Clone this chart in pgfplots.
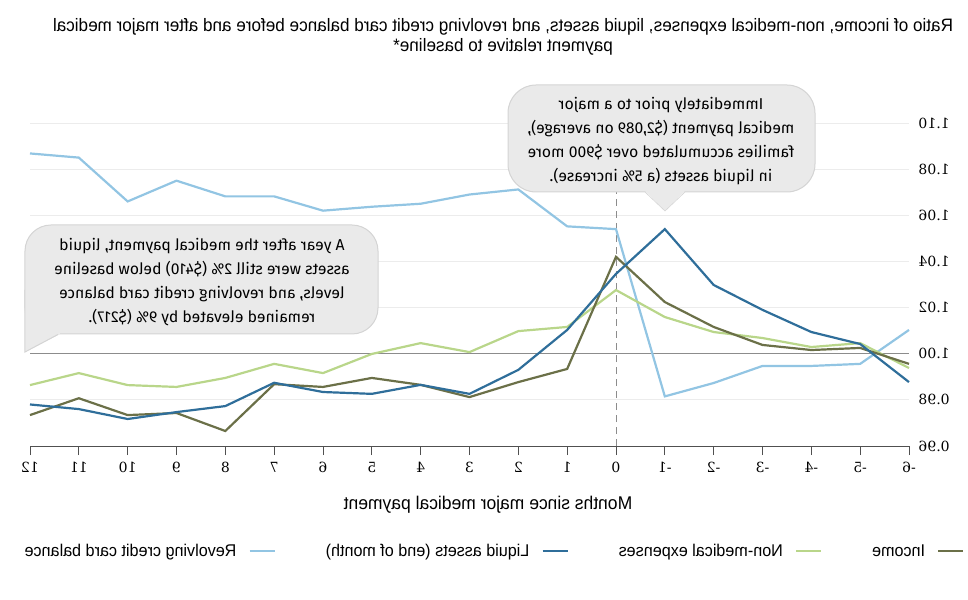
\documentclass[border=0pt]{standalone}
\usepackage{pgfplots}
\pgfplotsset{compat=1.18}
\usepackage{pgfplotstable}
\usepackage{graphicx}
\usepackage{fontspec}
\setmainfont{Liberation Sans}
\newfontfamily\narrowfont[FakeStretch=0.95]{Liberation Sans}
\newfontfamily\callfont{Fira Sans}
\newfontfamily\tickfont{DejaVu Serif}
\definecolor{incomec}{RGB}{107,112,72}
\definecolor{nonmedc}{RGB}{185,214,138}
\definecolor{liquidc}{RGB}{47,110,154}
\definecolor{revolvc}{RGB}{146,197,227}
\definecolor{gridc}{RGB}{236,236,236}
\definecolor{basec}{RGB}{140,140,140}
\definecolor{axisc}{RGB}{80,80,80}
\definecolor{callfill}{RGB}{234,234,234}
\definecolor{callborder}{RGB}{212,212,212}
\newcommand{\rl}[1]{\reflectbox{#1}}

\pgfplotstableread{
month income nonmed liquid revolv
12  0.9734 0.9864 0.9780 1.0868
11  0.9807 0.9916 0.9760 1.0850
10  0.9734 0.9864 0.9717 1.0660
9   0.9743 0.9856 0.9747 1.0750
8   0.9665 0.9895 0.9773 1.0682
7   0.9868 0.9956 0.9874 1.0682
6   0.9856 0.9916 0.9834 1.0620
5   0.9895 0.9999 0.9826 1.0637
4   0.9865 1.0046 0.9865 1.0650
3   0.9812 1.0007 0.9826 1.0690
2   0.9877 1.0098 0.9930 1.0712
1   0.9934 1.0116 1.0103 1.0552
0   1.0420 1.0276 1.0346 1.0540
-1  1.0224 1.0159 1.0540 0.9815
-2  1.0116 1.0094 1.0298 0.9873
-3  1.0038 1.0068 1.0190 0.9947
-4  1.0016 1.0029 1.0094 0.9947
-5  1.0025 1.0046 1.0042 0.9956
-6  0.9956 0.9938 0.9877 1.0103
}\datatable

\begin{document}
\begin{tikzpicture}
\begin{axis}[
  scale only axis, width=879bp, height=323bp,
  xmin=-6, xmax=12, ymin=0.96, ymax=1.10,
  x dir=reverse,
  separate axis lines,
  axis x line*=bottom,
  axis y line*=right,
  x axis line style={draw=axisc, line width=0.9bp},
  y axis line style={draw=none},
  xtick={-6,-5,...,12},
  xticklabels={\rl{-6},\rl{-5},\rl{-4},\rl{-3},\rl{-2},\rl{-1},\rl{0},\rl{1},\rl{2},\rl{3},\rl{4},\rl{5},\rl{6},\rl{7},\rl{8},\rl{9},\rl{10},\rl{11},\rl{12}},
  x tick label style={font=\tickfont\fontsize{14bp}{16bp}\selectfont, yshift=-4bp},
  x tick style={draw=axisc, line width=0.9bp},
  xtick align=outside, major tick length=9bp,
  ytick={0.96,0.98,1.00,1.02,1.04,1.06,1.08,1.10},
  yticklabels={\rl{0.96},\rl{0.98},\rl{1.00},\rl{1.02},\rl{1.04},\rl{1.06},\rl{1.08},\rl{1.10}},
  yticklabel pos=right,
  y tick style={draw=none},
  y tick label style={font=\tickfont\fontsize{14bp}{16bp}\selectfont, anchor=west, xshift=6bp},
  ymajorgrids, major grid style={draw=gridc, line width=0.9bp},
  clip=false,
  legend plot pos=right,
  legend columns=4,
  legend style={at={(-0.012,-0.325)}, anchor=west, draw=none, fill=none,
    font=\narrowfont\fontsize{17bp}{18bp}\selectfont,
    /tikz/every even column/.append style={column sep=48bp},
    /tikz/every odd column/.append style={column sep=10bp}},
  legend image code/.code={\draw[#1, line width=2.2bp] (0bp,0bp) -- (25bp,0bp);},
  every axis plot/.append style={line width=2.2bp},
]
\draw[basec, line width=1bp] (axis cs:-6,1) -- (axis cs:12,1);
\draw[basec, line width=0.9bp, dash pattern=on 7bp off 5bp] (axis cs:0,0.96) -- (axis cs:0,1.08);
\addplot[revolvc, forget plot] table[x=month, y=revolv] {\datatable};
\addplot[nonmedc, forget plot] table[x=month, y=nonmed] {\datatable};
\addplot[incomec, forget plot] table[x=month, y=income] {\datatable};
\addplot[liquidc, forget plot] table[x=month, y=liquid] {\datatable};
\addlegendimage{revolvc}
\addlegendentry{\rl{Revolving credit card balance}}
\addlegendimage{liquidc}
\addlegendentry{\rl{Liquid assets (end of month)}}
\addlegendimage{nonmedc}
\addlegendentry{\rl{Non-medical expenses}}
\addlegendimage{incomec}
\addlegendentry{\rl{Income}}
\end{axis}
\pgfresetboundingbox
\coordinate (TL) at ([xshift=-30bp,yshift=446bp]current axis.south west);
\path[use as bounding box] (TL) rectangle ++(968bp,-600bp);
\begin{scope}[shift={(TL)}, x=1bp, y=-1bp]
  % title
  \node[anchor=center, inner sep=0pt] at (503,38) {\rl{\narrowfont\fontsize{18bp}{20bp}\selectfont\setlength\tabcolsep{0pt}\begin{tabular}{c}Ratio of income, non-medical expenses, liquid assets, and revolving credit card balance before and after major medical\\payment relative to baseline*\end{tabular}}};
  % x label
  \node[anchor=center, inner sep=0pt] at (488,505) {\rl{\narrowfont\fontsize{18.4bp}{20bp}\selectfont Months since major medical payment}};
  % callout 1
  \draw[fill=callfill, draw=callborder, line width=1bp, rounded corners=28bp] (508,85) rectangle (815,192);
  \fill[callfill] (645,191) -- (665,211) -- (685,191) -- cycle;
  \draw[callborder, line width=0.6bp] (645,192) -- (665,211) -- (685,192);
  \fill[callfill] (646,190.5) -- (665,209.5) -- (684,190.5) -- cycle;
  \node[anchor=center, inner sep=0pt] at (661,141) {\rl{\callfont\fontsize{15.7bp}{24bp}\selectfont\setlength\tabcolsep{0pt}\begin{tabular}{c}Immediately prior to a major\\medical payment (\$2,089 on average),\\families accumulated over \$900 more\\in liquid assets (a 5\% increase).\end{tabular}}};
  % callout 2
  \draw[fill=callfill, draw=callborder, line width=1bp, rounded corners=26bp] (25,225) rectangle (378,334);
  \fill[callfill] (25,290) -- (25,352) -- (60,334) -- (60,290) -- cycle;
  \draw[callborder, line width=1bp] (25,290) -- (25,352) -- (58,334.5);
  \node[anchor=center, inner sep=0pt] at (202,282) {\rl{\callfont\fontsize{15.7bp}{24bp}\selectfont\setlength\tabcolsep{0pt}\begin{tabular}{c}A year after the medical payment, liquid\\assets were still 2\% (\$410) below baseline\\levels, and revolving credit card balance\\remained elevated by 9\% (\$217).\end{tabular}}};
\end{scope}
\end{tikzpicture}
\end{document}
